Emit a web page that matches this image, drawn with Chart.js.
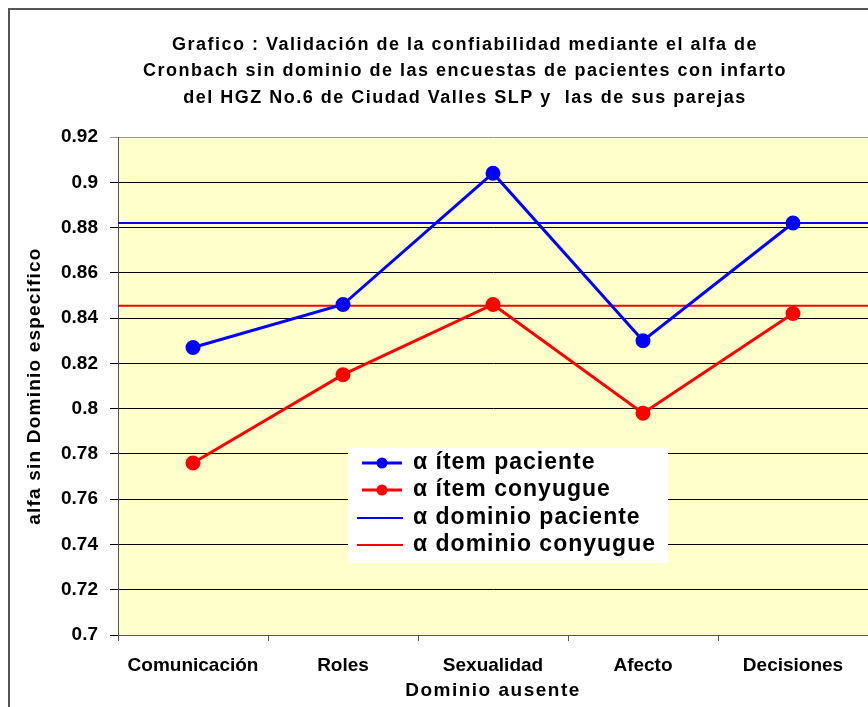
<!DOCTYPE html>
<html>
<head>
<meta charset="utf-8">
<script src="https://cdn.jsdelivr.net/npm/chart.js@4"></script>
<style>
  html, body { margin: 0; padding: 0; background: #fff; overflow: hidden; }
  #wrap { position: absolute; left: 0; top: 0; width: 920px; height: 707px; }
  #frame { position: absolute; left: 8px; top: 8px; width: 1000px; height: 1000px;
           border-left: 2px solid #555; border-top: 2px solid #555; pointer-events: none; }
</style>
</head>
<body>
<div id="wrap"><canvas id="myChart" width="920" height="707"></canvas></div>
<div id="frame"></div>
<script>
const categories = ['Comunicación', 'Roles', 'Sexualidad', 'Afecto', 'Decisiones'];
const itemPaciente = [0.827, 0.846, 0.904, 0.830, 0.882];
const itemConyugue = [0.776, 0.815, 0.846, 0.798, 0.842];
const dominioPaciente = 0.882;
const dominioConyugue = 0.8455;
const yMin = 0.7;
const yMax = 0.92;
const yStep = 0.02;

const titleLines = [
  'Grafico : Validación de la confiabilidad mediante el alfa de',
  'Cronbach sin dominio de las encuestas de pacientes con infarto',
  'del HGZ No.6 de Ciudad Valles SLP y  las de sus parejas',
];
const xTitle = 'Dominio ausente';
const yTitle = 'alfa sin Dominio especifico';

const FONT = "'Liberation Sans', Arial, sans-serif";

const plotBackground = {
  id: 'plotBackground',
  beforeDraw(chart) {
    const { ctx, chartArea } = chart;
    ctx.save();
    ctx.fillStyle = '#FFFFCC';
    ctx.fillRect(chartArea.left, chartArea.top, chartArea.right - chartArea.left, chartArea.bottom - chartArea.top);
    ctx.restore();
  },
};

// Excel spreads its text out a bit, so titles are drawn here with letter spacing
const spacedTitles = {
  id: 'spacedTitles',
  afterDraw(chart) {
    const { ctx, chartArea } = chart;
    ctx.save();
    ctx.fillStyle = '#000';
    ctx.textAlign = 'center';
    ctx.textBaseline = 'middle';
    ctx.letterSpacing = '1.5px';
    ctx.font = 'bold 18px ' + FONT;
    titleLines.forEach((t, i) => ctx.fillText(t, 465, 45 + i * 26.5));

    ctx.font = 'bold 19px ' + FONT;
    ctx.fillText(xTitle, (chartArea.left + chartArea.right) / 2, 691);

    ctx.letterSpacing = '1.2px';
    ctx.translate(35, (chartArea.top + chartArea.bottom) / 2);
    ctx.rotate(-Math.PI / 2);
    ctx.fillText(yTitle, 0, 0);
    ctx.restore();
  },
};

// legend box inside the plot, like the Excel one
const boxLegend = {
  id: 'boxLegend',
  afterDatasetsDraw(chart) {
    const ctx = chart.ctx;
    const x = 348, y = 448, w = 320, h = 115;
    ctx.save();
    ctx.fillStyle = '#fff';
    ctx.fillRect(x, y, w, h);
    const rows = [463, 490, 518, 545];
    chart.data.datasets.forEach((ds, i) => {
      const cy = rows[i];
      ctx.strokeStyle = ds.borderColor;
      ctx.lineWidth = ds.borderWidth;
      ctx.beginPath();
      if (ds.pointRadius > 0) {
        ctx.moveTo(362, cy);
        ctx.lineTo(402, cy);
      } else {
        ctx.moveTo(357, cy);
        ctx.lineTo(403, cy);
      }
      ctx.stroke();
      if (ds.pointRadius > 0) {
        ctx.fillStyle = ds.borderColor;
        ctx.beginPath();
        ctx.arc(382, cy, 5.5, 0, Math.PI * 2);
        ctx.fill();
      }
      ctx.fillStyle = '#000';
      ctx.letterSpacing = '1px';
      ctx.font = 'bold 23px ' + FONT;
      ctx.textBaseline = 'middle';
      ctx.fillText(ds.label, 413, cy);
    });
    ctx.restore();
  },
};

const ctx = document.getElementById('myChart');

new Chart(ctx, {
  type: 'line',
  data: {
    labels: categories,
    datasets: [
      {
        label: 'α ítem paciente',
        data: itemPaciente,
        borderColor: '#0000FF',
        backgroundColor: '#0000FF',
        borderWidth: 3,
        pointRadius: 6,
        pointHoverRadius: 6,
        tension: 0,
      },
      {
        label: 'α ítem conyugue',
        data: itemConyugue,
        borderColor: '#FF0000',
        backgroundColor: '#FF0000',
        borderWidth: 3,
        pointRadius: 6,
        pointHoverRadius: 6,
        tension: 0,
      },
      {
        label: 'α dominio paciente',
        data: [{ x: 0, y: dominioPaciente }, { x: 1, y: dominioPaciente }],
        xAxisID: 'x2',
        borderColor: '#0000FF',
        borderWidth: 2,
        pointRadius: 0,
      },
      {
        label: 'α dominio conyugue',
        data: [{ x: 0, y: dominioConyugue }, { x: 1, y: dominioConyugue }],
        xAxisID: 'x2',
        borderColor: '#FF0000',
        borderWidth: 2,
        pointRadius: 0,
      },
    ],
  },
  options: {
    responsive: false,
    animation: false,
    layout: { padding: { left: 0, right: 52, top: 137, bottom: 0 } },
    plugins: {
      legend: { display: false },
      tooltip: { enabled: false },
      title: { display: false },
    },
    scales: {
      x: {
        type: 'category',
        offset: true,
        border: { color: '#555', width: 1 },
        grid: { drawOnChartArea: false, drawTicks: true, tickLength: 6, color: '#555', offset: true },
        ticks: { color: '#000', padding: 13, font: { family: FONT, size: 19, weight: 'bold' } },
        afterFit: (s) => { s.height = 72; },
      },
      x2: { type: 'linear', display: false, min: 0, max: 1 },
      y: {
        min: yMin,
        max: yMax,
        border: { color: '#555', width: 1 },
        grid: {
          color: (c) => (c.tick && Math.abs(c.tick.value - yMax) < 1e-6 ? '#999' : '#000'),
          tickLength: 8,
        },
        ticks: {
          stepSize: yStep,
          color: '#000',
          padding: 12,
          font: { family: FONT, size: 19, weight: 'bold' },
          callback: (v) => String(Number(v.toFixed(2))),
        },
        afterFit: (s) => { s.width = 118; },
      },
    },
  },
  plugins: [plotBackground, boxLegend, spacedTitles],
});
</script>
</body>
</html>
